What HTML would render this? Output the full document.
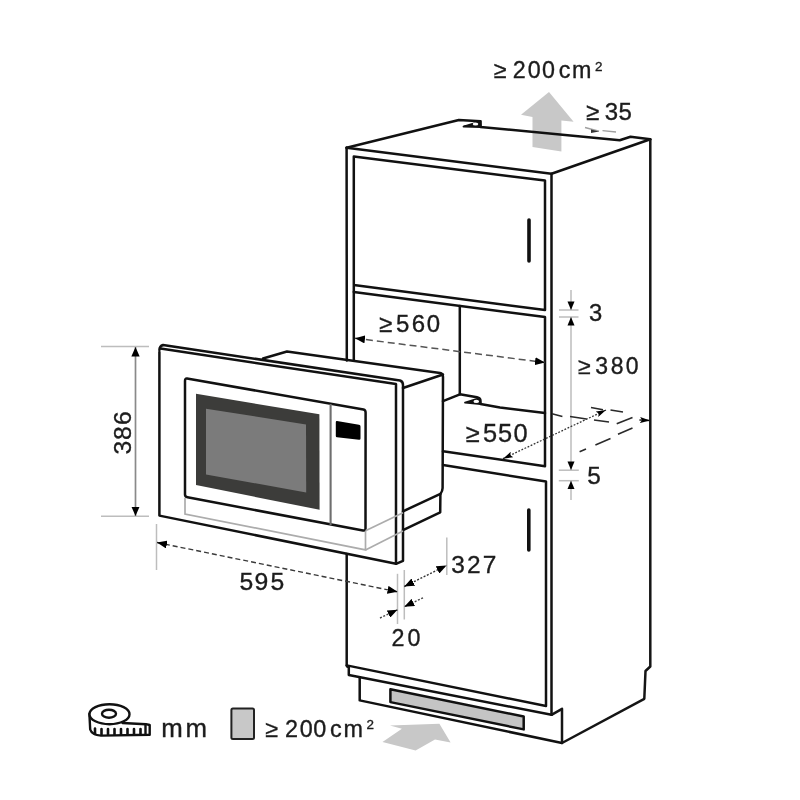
<!DOCTYPE html>
<html><head><meta charset="utf-8">
<style>
html,body{margin:0;padding:0;background:#fff;width:800px;height:800px;overflow:hidden}
svg{display:block;will-change:transform}
text{font-family:"Liberation Sans",sans-serif;fill:#1c1c1c;stroke:#1c1c1c;stroke-width:0.35px}
</style></head><body>
<svg width="800" height="800" viewBox="0 0 800 800">
<defs>
<marker id="ah" viewBox="0 0 10 8" refX="10" refY="4" markerWidth="10" markerHeight="8" markerUnits="userSpaceOnUse" orient="auto-start-reverse"><path d="M0,0 L10,4 L0,8 z" fill="#000"/></marker>
<marker id="ahs" viewBox="0 0 10 6" refX="10" refY="3" markerWidth="10" markerHeight="6" markerUnits="userSpaceOnUse" orient="auto-start-reverse"><path d="M0,0 L10,3 L0,6 L2,3 z" fill="#000"/></marker>
<marker id="ahv" viewBox="0 0 9.5 8.3" refX="9.5" refY="4.15" markerWidth="9.5" markerHeight="8.3" markerUnits="userSpaceOnUse" orient="auto-start-reverse"><path d="M0,0 L9.5,4.15 L0,8.3 z" fill="#000"/></marker>
</defs>
<rect width="800" height="800" fill="#fff"/>

<!-- top gray arrow (behind top edge) -->
<path d="M549,92 L573.6,121.8 L561.4,120.5 L561.4,151.5 L532.5,147 L532.5,117 L521,114.8 Z" fill="#c8c8c8"/>

<!-- ===== CABINET ===== -->
<g fill="none" stroke="#111" stroke-width="2.5" stroke-linejoin="round" stroke-linecap="round">
  <path d="M346.6,147.8 L458.8,120 L480.6,121.2 L480.6,127 L619.7,140.2 L630.5,136.7 L650.3,139.3"/>
  <path d="M346.6,147.8 L551.5,173.8 L650.3,139.3"/>
  <path d="M551.5,173.8 L551.5,714.8"/>
  <path d="M346.6,147.8 L346.8,360.5"/>
  <path d="M346.7,554 L346.7,665.4"/>
  <path d="M353.8,360.5 L353.8,156.6 L545,180.6 L545,310 L353.8,285"/>
  <path d="M353.8,292 L545,317 L545,466.2 L443,451.3"/>
  <path d="M459.8,306 L459.8,394.3"/>
  <path d="M443,401.2 L459.9,394.3 L477,397.3 Q480.5,398 480.5,401 L480.5,404 L500,407.4 L545,413"/>
  <path d="M443,465 L546,481.5 L546,706 L346.7,665.4 Q347,667 348.8,667.1 L348.8,675 L551.5,714.8"/>
  <path d="M359.7,677.6 L359.7,700.4 L562,743"/>
</g>
<path d="M650.3,139.3 L650.3,666.5 L645.5,671 L644.3,698.8 L562,743 L562,708.8 L551.5,714.8" fill="none" stroke="#151515" stroke-width="2.5" stroke-linejoin="round"/>
<!-- notches -->
<path d="M463.5,126.5 L479.8,121.5 L480.6,127 Z" fill="#111" stroke="#111" stroke-width="1.8" stroke-linejoin="round"/>
<ellipse cx="475.5" cy="124" rx="2.8" ry="1.5" fill="#fff"/>
<path d="M465,402.6 L479.5,398.2 L480.5,404 Z" fill="#111" stroke="#111" stroke-width="1.8" stroke-linejoin="round"/>
<ellipse cx="476.3" cy="401.4" rx="2.8" ry="1.6" fill="#fff"/>
<!-- handles -->
<line x1="529" y1="220" x2="529" y2="261" stroke="#111" stroke-width="3.6" stroke-linecap="round"/>
<line x1="528.8" y1="510" x2="528.8" y2="550" stroke="#111" stroke-width="3.6" stroke-linecap="round"/>
<!-- vent -->
<path d="M390.4,689.3 L523.7,716.5 L523.7,729.4 L390.4,702.1 Z" fill="#c4c4c4" stroke="#111" stroke-width="2.5" stroke-linejoin="round"/>

<!-- ===== MICROWAVE ===== -->
<g fill="none" stroke="#111" stroke-width="2.5" stroke-linejoin="round" stroke-linecap="round">
  <path d="M263,358.5 L287,351.5 L440,373 Q443,373.5 443,377 L442.6,488 Q442.6,491 440.4,493.9 L403,511.3"/>
  <path d="M443,374.5 L403,388"/>
  <path d="M440.4,493.9 L440.2,512.3 L403,530.1"/>
  <path d="M159.4,350 Q159.5,346 163,345 L400,380.5 Q403,381.5 403,385 L403,560.8 L396,563.8"/>
  <path d="M159.4,352 L159.4,515.6 L396,563.8 L396,384 L160.5,348.6"/>
  <path d="M187,378.5 L363.5,409.5 Q365.6,410 365.6,412.5 L365.5,528.5 Q365.5,531 363,530.5 L187.5,497.3 Q185,497 185,494.5 L185,381 Q185,378.3 187,378.5 Z"/>
</g>
<path d="M196,393.8 L319.4,414.3 L319.6,509.8 L196,485 Z" fill="#3c3c3a"/>
<path d="M206,408.8 L306,424.4 L306.2,492.5 L206,474.4 Z" fill="#7b7b7b"/>
<line x1="330.6" y1="404" x2="330.6" y2="525" stroke="#6e6e6e" stroke-width="2.1"/>
<path d="M337,421 L359,424.8 Q360.5,425 360.5,426.5 L360.5,438.5 Q360.5,440 359,439.8 L337,437.3 Q335.8,437.2 335.8,436 L335.8,422.3 Q335.8,420.8 337,421 Z" fill="#000"/>
<g fill="none" stroke="#acacac" stroke-width="1.7">
  <path d="M185,498 L185,514 L365.5,549.9 L365.5,531"/>
  <path d="M365.5,549.9 L403,531.1"/>
  <path d="M365.5,530.8 L403,512.8"/>
</g>

<!-- ===== DIMENSIONS ===== -->
<g stroke="#bdbdbd" stroke-width="1.5" fill="none">
  <line x1="101" y1="346.6" x2="149" y2="346.6"/>
  <line x1="101" y1="516.3" x2="149" y2="516.3"/>
  <line x1="156.5" y1="524" x2="156.5" y2="570"/>
  <line x1="397.5" y1="573.8" x2="397.5" y2="624"/>
  <line x1="404.3" y1="570" x2="404.3" y2="619.5"/>
  <line x1="446.8" y1="537.5" x2="446.8" y2="575"/>
  <path d="M571,290 V310 M571,317 V470 M571,480.5 V500"/>
  <line x1="559" y1="310" x2="578.5" y2="310"/>
  <line x1="559" y1="317" x2="578.5" y2="317"/>
  <line x1="558.8" y1="470.2" x2="578.8" y2="470.2"/>
  <line x1="558.8" y1="480.7" x2="578.8" y2="480.7"/>
</g>
<line x1="135.5" y1="347" x2="135.5" y2="516" stroke="#8a8a8a" stroke-width="1.7" marker-start="url(#ahv)" marker-end="url(#ahv)"/>
<line x1="157" y1="542.5" x2="397.5" y2="591.8" stroke="#3a3a3a" stroke-width="1.4" stroke-dasharray="5,3" marker-start="url(#ah)" marker-end="url(#ah)"/>
<line x1="404.3" y1="586.5" x2="446.5" y2="565.5" stroke="#333" stroke-width="1.4" stroke-dasharray="2,1.6" marker-start="url(#ah)" marker-end="url(#ah)"/>
<line x1="380" y1="618" x2="397.5" y2="609.8" stroke="#444" stroke-width="1.4" stroke-dasharray="2,1.6" marker-end="url(#ah)"/>
<line x1="423" y1="597.8" x2="404.3" y2="606.8" stroke="#444" stroke-width="1.4" stroke-dasharray="2,1.6" marker-end="url(#ah)"/>
<line x1="355" y1="338.2" x2="545" y2="362.5" stroke="#555" stroke-width="1.5" stroke-dasharray="7,4" marker-start="url(#ah)" marker-end="url(#ah)"/>
<g stroke="none" fill="#000">
  <path d="M571,310 L567.5,301.5 L574.5,301.5 Z"/>
  <path d="M571,317 L567.5,325.5 L574.5,325.5 Z"/>
  <path d="M571,470 L567.5,461.5 L574.5,461.5 Z"/>
  <path d="M571,480.7 L567.5,489 L574.5,489 Z"/>
</g>
<line x1="503" y1="458.7" x2="606" y2="410" stroke="#333" stroke-width="1.3" stroke-dasharray="1.8,1.6" marker-start="url(#ahs)" marker-end="url(#ahs)"/>
<g stroke="#2a2a2a" stroke-width="1.6" fill="none" stroke-linecap="butt">
  <path d="M552,413.8 L562.4,416.5 M570,416.5 L586.5,419 M594,420 L609,422"/>
  <path d="M591,407.5 L603,409.8 M610.5,410 L623,412"/>
  <path d="M616.7,423.8 L632.5,417.6"/>
  <path d="M579.6,451.8 L586,449 M595.4,444.9 L610.5,438.5 M618,434.3 L632.5,428"/>
</g>
<line x1="639.4" y1="420" x2="650" y2="420.6" stroke="#222" stroke-width="1.5" marker-end="url(#ahs)"/>
<!-- bottom gray arrow -->
<path d="M390,725.6 L439.4,723.8 L450.6,742.5 L435,739.4 L415.6,750.6 L382.5,741.9 L401.9,728.8 Z" fill="#c8c8c8"/>
<g stroke="#a0a0a0" stroke-width="1.4"><line x1="585" y1="127.5" x2="599" y2="131.3"/><line x1="602.5" y1="130.6" x2="616" y2="132"/></g>
<path d="M591,129.5 L599,131.5 L591,133 Z" fill="#333"/>

<!-- legend rect -->
<rect x="231.4" y="708.5" width="22.6" height="30.5" rx="1.5" fill="#c8c8c8" stroke="#222" stroke-width="2"/>
<!-- tape measure -->
<g fill="none" stroke="#111" stroke-width="2.4" stroke-linejoin="round" stroke-linecap="round">
  <path d="M89.4,714 L90.2,729.5 Q92,735 101,735.6 L149.7,734.8 L149.7,725 L146,724.2 L122.6,723" fill="#fff"/>
  <ellipse cx="109.5" cy="714.2" rx="20" ry="10" fill="#fff"/>
  <ellipse cx="109" cy="713.7" rx="7" ry="4"/>
  <path d="M95,728.5 V734 M101.5,729 V734.5 M108,729 V734.5 M114.5,729 V734.5 M121,729 V734.5 M127.5,729 V734.5 M134,729 V734.5 M140.5,729 V734.5" stroke-width="2.6"/><path d="M145.5,725 V734.5"/>
</g>

<text x="378.91 396.10 411.74 426.82" y="331.76" font-size="24.01">≥560</text>
<text x="578.03 595.24 610.77 625.77" y="374.17" font-size="23.02">≥380</text>
<text x="589.08" y="321.01" font-size="23.80">3</text>
<text x="465.77 482.96 497.96 513.43" y="441.75" font-size="25.42">≥550</text>
<text x="587.25" y="483.51" font-size="24.36">5</text>
<text x="239.55 254.41 270.40" y="590.15" font-size="24.72">595</text>
<text x="451.23 466.91 482.64" y="572.66" font-size="24.44">327</text>
<text x="391.52 407.52" y="646.27" font-size="23.31">20</text>
<text x="585.91 604.64 618.55" y="119.76" font-size="24.01">≥35</text>
<text x="493.82 512.64 527.64 541.89 558.86 572.04" y="78.02" font-size="23.31">≥200cm</text>
<text x="595.02" y="70.87" font-size="13.42">2</text>
<text x="265.28 284.97 299.70 313.37 329.97 343.51" y="736.92" font-size="23.38">≥200cm</text>
<text x="366.57" y="728.87" font-size="13.42">2</text>
<text x="161.23 185.61" y="737" font-size="25.84" >mm</text>
<text transform="rotate(-90)" x="-454.40 -439.97 -425.06" y="130.75" font-size="24.72" >386</text>
</svg>
</body></html>
